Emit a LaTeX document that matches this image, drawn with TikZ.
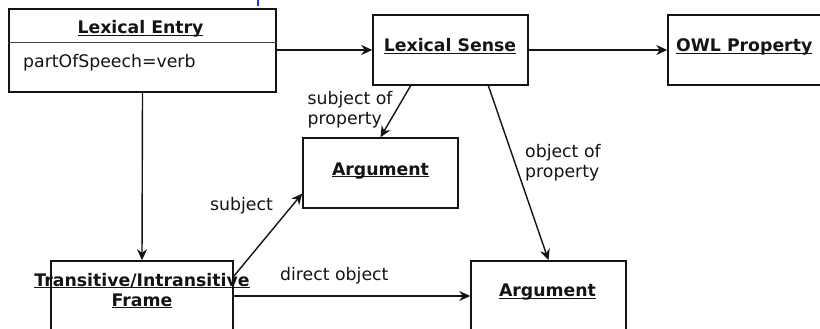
\documentclass[tikz,border=0pt]{standalone}
\usepackage{fontspec}
\setmainfont{DejaVu Sans}
\usetikzlibrary{arrows.meta,calc}
\definecolor{markblue}{RGB}{50,50,220}
\definecolor{ink}{RGB}{20,20,20}
\newcommand\ttltxt[1]{\underline{\smash{\textbf{#1}}}}
\begin{document}
\begin{tikzpicture}[x=1pt,y=-1pt,
  font=\fontsize{17.3}{20}\selectfont,
  box/.style={draw=ink, line width=1.5pt, inner sep=0pt, fill=white},
  ttl/.style={inner sep=0pt, anchor=base, text=ink},
  lbl/.style={inner sep=0pt, text=ink, align=left},
  arr/.style={draw=ink, line width=1.4pt, -{Stealth[length=11pt,width=10pt]}}]
\useasboundingbox (0,0) rectangle (820,329);
\clip (0,0) rectangle (820,329);
\fill[white] (0,0) rectangle (820,329);
% boxes
\node[box, minimum width=267pt, minimum height=83pt] (le) at (142.5,50.5) {};
\draw[ink!80, line width=1pt] ($(le.north west)+(0,34)$) -- ($(le.north east)+(0,34)$);
\node[box, minimum width=155pt, minimum height=70pt] (ls) at (450.5,50) {};
\node[box, minimum width=155pt, minimum height=70pt] (owl) at (745.5,50) {};
\node[box, minimum width=155pt, minimum height=70pt] (a1) at (380.5,173) {};
\node[box, minimum width=155pt, minimum height=70pt] (a2) at (548.5,296) {};
\node[box, minimum width=182pt, minimum height=70pt] (fr) at (142,296) {};
% titles
\node[ttl] (leT) at (140.5,34) {\ttltxt{Lexical Entry}};
\node[lbl, anchor=base west] (leA) at (23,68) {partOfSpeech=verb};
\node[ttl] (lsT) at (450,51.5) {\ttltxt{Lexical Sense}};
\node[ttl, anchor=base west] (owlT) at (676,51.5) {\ttltxt{OWL Property}};
\node[ttl] (a1T) at (380.5,175) {\ttltxt{Argument}};
\node[ttl] (a2T) at (547.5,296.5) {\ttltxt{Argument}};
\node[ttl] (frT1) at (142,286) {\ttltxt{Transitive/Intransitive}};
\node[ttl] (frT2) at (142,306) {\ttltxt{Frame}};
% edge labels
\node[lbl, anchor=west] (l1) at (307.5,110) {subject of\\property};
\node[lbl, anchor=west] (l2) at (525,163) {object of\\property};
\node[lbl, anchor=base west] (l3) at (210,210.5) {subject};
\node[lbl, anchor=base west] (l4) at (280,280.5) {direct object};
% connectors
\draw[arr] (le.east |- ls.west) -- (ls.west);
\draw[arr] (ls.east) -- (owl.west);
\draw[arr] (le.south) -- (fr.north);
\draw[arr] ($(ls.south west)!0.245!(ls.south east)$) -- (a1.north);
\draw[arr] ($(ls.south west)!0.742!(ls.south east)$) -- (a2.north);
\draw[arr] ($(fr.north east)+(0,16)$) -- ($(a1.north west)!0.786!(a1.south west)$);
\draw[arr] (fr.east) -- (a2.west);
% small blue mark at the top edge
\fill[markblue] (256.5,0) rectangle (259,6);
\end{tikzpicture}
\end{document}
